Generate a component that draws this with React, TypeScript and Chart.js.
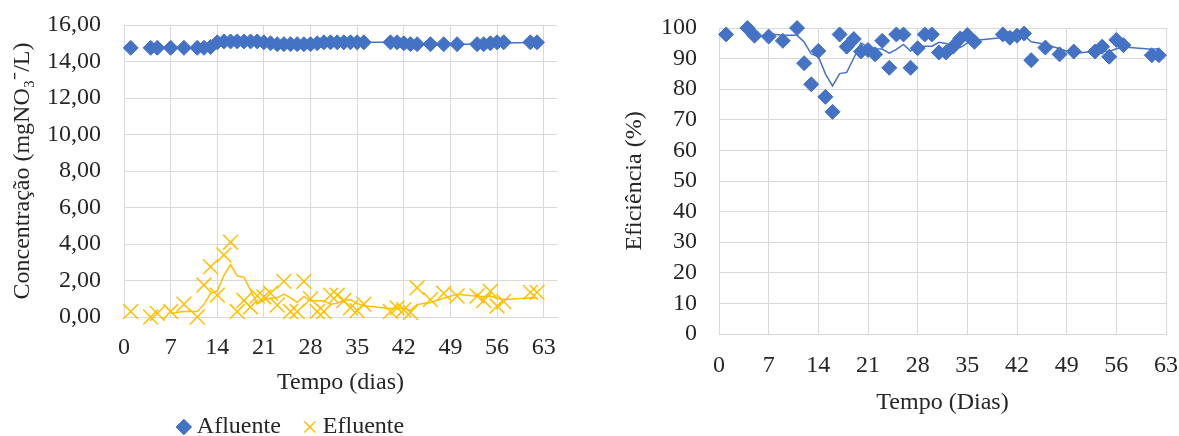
import React, { useEffect, useRef } from "react";
import { Chart, registerables } from "chart.js";

Chart.register(...registerables);

// Sampling days (dias)
const days = [1, 4, 5, 7, 9, 11, 12, 13, 14, 15, 16, 17, 18, 19, 20, 21, 22, 23, 24, 25, 26, 27, 28, 29, 30, 31, 32, 33, 34, 35, 36, 40, 41, 42, 43, 44, 46, 48, 50, 53, 54, 55, 56, 57, 61, 62];

// Afluente (mgNO3-/L)
const afluente = [14.75, 14.75, 14.75, 14.75, 14.75, 14.75, 14.75, 14.8, 15.05, 15.1, 15.1, 15.1, 15.1, 15.1, 15.1, 15.05, 15.0, 14.95, 14.95, 14.95, 14.95, 14.95, 14.95, 15.0, 15.05, 15.05, 15.05, 15.05, 15.05, 15.05, 15.05, 15.05, 15.05, 15.0, 14.95, 14.95, 14.95, 14.95, 14.95, 14.95, 14.95, 15.0, 15.05, 15.05, 15.05, 15.05];

// Efluente (mgNO3-/L)
const efluente = [0.3, 0.0, 0.2, 0.3, 0.7, 0.0, 1.75, 2.75, 1.2, 3.4, 4.1, 0.3, 0.9, 0.55, 1.15, 1.1, 1.3, 0.65, 1.95, 0.3, 0.3, 1.95, 1.0, 0.3, 0.3, 1.2, 1.2, 0.9, 0.5, 0.35, 0.7, 0.3, 0.5, 0.4, 0.25, 1.6, 0.95, 1.3, 1.15, 1.15, 0.9, 1.4, 0.6, 0.85, 1.35, 1.35];

// Eficiência (%)
const eficiencia = [97.9, 100, 97.5, 97.2, 95.8, 100, 88.5, 81.6, 92.5, 77.5, 72.6, 97.9, 93.9, 96.4, 92.3, 92.8, 91.4, 95.8, 87, 97.9, 97.9, 87, 93.4, 97.9, 97.9, 92, 92, 93.9, 96.6, 97.7, 95.5, 97.9, 96.8, 97.5, 98.2, 89.5, 93.6, 91.4, 92.3, 92.3, 93.9, 90.6, 96.1, 94.4, 91.1, 91.1];

// Trend lines (moving-average lines)
const trendDays = [7, 9, 11, 12, 13, 14, 15, 16, 17, 18, 19, 20, 21, 22, 23, 24, 25, 26, 27, 28, 29, 30, 31, 32, 33, 34, 35, 36, 40, 41, 42, 43, 44, 46, 48, 50, 53, 54, 55, 56, 57, 61, 62];
const afluenteTrend = [14.75, 14.75, 14.75, 14.75, 14.76, 14.84, 14.93, 15.01, 15.09, 15.1, 15.1, 15.1, 15.09, 15.06, 15.03, 14.99, 14.96, 14.95, 14.95, 14.95, 14.96, 14.99, 15.01, 15.04, 15.05, 15.05, 15.05, 15.05, 15.05, 15.05, 15.04, 15.01, 14.99, 14.96, 14.95, 14.95, 14.95, 14.95, 14.96, 14.99, 15.01, 15.04, 15.05];
const efluenteTrend = [0.2, 0.3, 0.3, 0.69, 1.3, 1.43, 2.28, 2.86, 2.25, 2.18, 1.46, 0.73, 0.93, 1.03, 1.05, 1.25, 1.05, 0.8, 1.13, 0.89, 0.89, 0.89, 0.7, 0.75, 0.9, 0.95, 0.74, 0.61, 0.46, 0.46, 0.48, 0.36, 0.69, 0.8, 1.03, 1.25, 1.14, 1.13, 1.15, 1.01, 0.94, 1.05, 1.04];
const eficienciaTrend = [98.15, 97.6, 97.6, 95.4, 91.5, 90.65, 85.0, 81.05, 85.1, 85.5, 90.2, 95.1, 93.85, 93.2, 93.1, 91.75, 93.0, 94.65, 92.45, 94.05, 94.05, 94.05, 95.3, 94.95, 93.95, 93.6, 95.05, 95.9, 96.9, 96.98, 96.9, 97.6, 95.5, 94.7, 93.2, 91.7, 92.4, 92.5, 92.3, 93.2, 93.75, 93.05, 93.2];

const BLUE = "#4472C4";
const GOLD = "#FFC000";
const GRID = "#d9d9d9";
const TEXT = "#262626";
const CLEAR = "rgba(0,0,0,0)";
const FAMILY = "'Liberation Serif', 'Times New Roman', serif";
const FS = 24;

function pts(xs: number[], ys: number[]) {
  return xs.map((x, i) => ({ x, y: ys[i] }));
}

function grid(len: number) {
  return { color: GRID, drawTicks: true, tickLength: len, tickColor: CLEAR };
}

export default function App() {
  const leftRef = useRef<HTMLCanvasElement>(null);
  const rightRef = useRef<HTMLCanvasElement>(null);

  useEffect(() => {
    const font = { family: FAMILY, size: FS };
    const left = new Chart(leftRef.current!, {
      type: "scatter",
      data: {
        datasets: [
          { label: "tA", data: pts(trendDays, afluenteTrend), showLine: true, pointRadius: 0, borderColor: BLUE, backgroundColor: BLUE, borderWidth: 1.5, clip: false },
          { label: "tE", data: pts(trendDays, efluenteTrend), showLine: true, pointRadius: 0, borderColor: GOLD, backgroundColor: GOLD, borderWidth: 1.5, clip: false },
          { label: "Afluente", data: pts(days, afluente), pointStyle: "rectRot", pointRadius: 7.5, backgroundColor: BLUE, borderColor: BLUE, borderWidth: 1, clip: false },
          { label: "Efluente", data: pts(days, efluente), pointStyle: "crossRot", pointRadius: 10.5, backgroundColor: GOLD, borderColor: GOLD, borderWidth: 1.5, clip: false },
        ],
      },
      options: {
        animation: false,
        responsive: false,
        events: [],
        layout: { padding: { top: 25, right: 23, left: 30, bottom: 0 } },
        plugins: {
          tooltip: { enabled: false },
          legend: {
            position: "bottom",
            labels: {
              usePointStyle: true,
              boxWidth: 2,
              boxHeight: 11,
              padding: 28,
              font,
              color: TEXT,
              filter: (item: any) => item.text === "Afluente" || item.text === "Efluente",
            },
          },
        },
        scales: {
          x: {
            type: "linear",
            min: 0,
            max: 65,
            ticks: { stepSize: 7, includeBounds: false, padding: 0, font, color: TEXT, maxRotation: 0, autoSkip: false },
            grid: grid(16),
            border: { color: GRID },
            title: { display: true, text: "Tempo (dias)", font, color: TEXT, padding: { top: 0, bottom: -10 } },
            afterFit: (s: any) => { s.height = 70; },
          },
          y: {
            min: 0,
            max: 16,
            ticks: { stepSize: 2, padding: 0, autoSkip: false, font, color: TEXT, callback: (v: any) => Number(v).toFixed(2).replace(".", ",") },
            grid: grid(23),
            border: { color: GRID },
            title: { display: true, text: "Concentração (mgNO₃⁻/L)", font, color: TEXT, padding: { top: -22, bottom: 0 } },
            afterFit: (s: any) => { s.width = 94; },
          },
        },
      },
    } as any);

    const right = new Chart(rightRef.current!, {
      type: "scatter",
      data: {
        datasets: [
          { label: "t", data: pts(trendDays, eficienciaTrend), showLine: true, pointRadius: 0, borderColor: BLUE, backgroundColor: BLUE, borderWidth: 1.5, clip: false },
          { label: "Eficiência", data: pts(days, eficiencia), pointStyle: "rectRot", pointRadius: 7.5, backgroundColor: BLUE, borderColor: BLUE, borderWidth: 1, clip: false },
        ],
      },
      options: {
        animation: false,
        responsive: false,
        events: [],
        layout: { padding: { top: 28, right: 13, left: 0, bottom: 0 } },
        plugins: { tooltip: { enabled: false }, legend: { display: false } },
        scales: {
          x: {
            type: "linear",
            min: 0,
            max: 63,
            ticks: { stepSize: 7, padding: 0, font, color: TEXT, maxRotation: 0, autoSkip: false },
            grid: grid(17),
            border: { color: GRID },
            title: { display: true, text: "Tempo (Dias)", font, color: TEXT, padding: { top: 0, bottom: 19 } },
            afterFit: (s: any) => { s.height = 102; },
          },
          y: {
            min: 0,
            max: 100,
            ticks: { stepSize: 10, padding: 0, autoSkip: false, font, color: TEXT },
            grid: grid(22),
            border: { color: GRID },
            title: { display: true, text: "Eficiência (%)", font, color: TEXT, padding: { top: 30, bottom: 0 } },
            afterFit: (s: any) => { s.width = 129; },
          },
        },
      },
    } as any);

    return () => {
      left.destroy();
      right.destroy();
    };
  }, []);

  return (
    <div style={{ position: "fixed", left: 0, top: 0, width: 1179, height: 436, overflow: "hidden", background: "#fff" }}>
      <canvas ref={leftRef} width={580} height={449} style={{ position: "absolute", left: 0, top: 0, width: 580, height: 449 }} />
      <canvas ref={rightRef} width={589} height={436} style={{ position: "absolute", left: 590, top: 0, width: 589, height: 436 }} />
    </div>
  );
}
